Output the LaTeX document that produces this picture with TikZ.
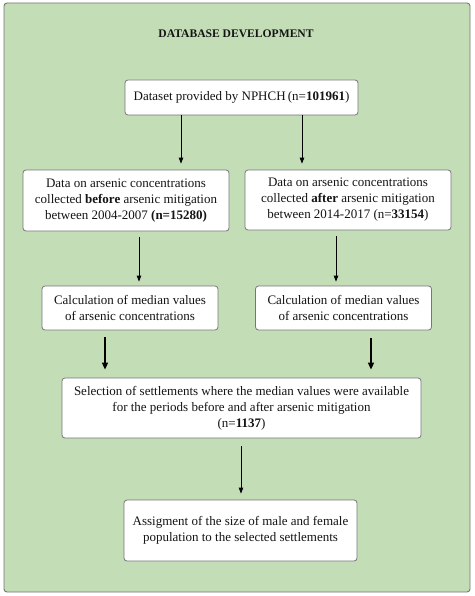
\documentclass[tikz,border=0pt]{standalone}
\usepackage{fontspec}
\setmainfont{Liberation Serif}
\usetikzlibrary{arrows.meta}
\definecolor{bggreen}{HTML}{C3DDB7}
\definecolor{boxgray}{HTML}{767676}
\definecolor{txt}{HTML}{141414}
\tikzset{
  box/.style={draw=boxgray, line width=0.8pt, fill=white, rounded corners=3pt, align=center,
    font=\fontsize{13}{16}\selectfont, text=txt, inner sep=2pt},
  arr/.style={draw=black, line width=0.9pt, -{Triangle[length=6pt,width=4.5pt]}},
  thickarr/.style={draw=black, line width=1.5pt, -{Triangle[length=7pt,width=6pt]}}
}
\begin{document}
\begin{tikzpicture}[x=1pt,y=-1pt]
\useasboundingbox (0,0) rectangle (474,596);
\fill[white] (0,0) rectangle (474,596);
\draw[draw=boxgray, line width=0.9pt, fill=bggreen, rounded corners=3pt] (4,3) rectangle (470,592);
\node[font=\fontsize{11.6}{13}\selectfont\bfseries, text=txt] (title) at (236,33.5) {DATABASE DEVELOPMENT};

\node[box, minimum width=233pt, minimum height=35pt] (b1) at (241.5,97.5)
  {Dataset provided by NPHCH\,(n=\textbf{101961})};
\node[box, minimum width=206pt, minimum height=61pt] (b2l) at (126,200.5)
  {Data on arsenic concentrations\\collected \textbf{before} arsenic mitigation\\between 2004-2007 \textbf{(n=15280)}};
\node[box, minimum width=206pt, minimum height=60pt] (b2r) at (348,200)
  {Data on arsenic concentrations\\collected \textbf{after} arsenic mitigation\\between 2014-2017 (n=\textbf{33154})};
\node[box, minimum width=176pt, minimum height=44pt] (b3l) at (130,308)
  {Calculation of median values\\of arsenic concentrations};
\node[box, minimum width=176pt, minimum height=44pt] (b3r) at (343.5,308)
  {Calculation of median values\\of arsenic concentrations};
\node[box, minimum width=359pt, minimum height=60pt] (b4) at (241.5,408)
  {Selection of settlements where the median values were available\\for the periods before and after arsenic mitigation\\(n=\textbf{1137})};
\node[box, minimum width=233pt, minimum height=61pt] (b5) at (240.5,530.5)
  {Assigment of the size of male and female\\population to the selected settlements};

\coordinate (x1) at (181,0);
\coordinate (x2) at (302,0);
\coordinate (x3) at (139,0);
\coordinate (x4) at (336,0);
\coordinate (x5) at (105,0);
\coordinate (x6) at (371,0);
\coordinate (x7) at (241,0);

\draw[arr, shorten >=6pt] (b1.south -| x1) -- (b2l.north -| x1);
\draw[arr, shorten >=6pt] (b1.south -| x2) -- (b2r.north -| x2);
\draw[arr, shorten <=6pt, shorten >=4pt] (b2l.south -| x3) -- (b3l.north -| x3);
\draw[arr, shorten <=6pt, shorten >=4pt] (b2r.south -| x4) -- (b3r.north -| x4);
\draw[thickarr, shorten <=7pt, shorten >=8pt] (b3l.south -| x5) -- (b4.north -| x5);
\draw[thickarr, shorten <=8pt, shorten >=8pt] (b3r.south -| x6) -- (b4.north -| x6);
\draw[arr, shorten <=8pt, shorten >=6pt] (b4.south -| x7) -- (b5.north -| x7);
\end{tikzpicture}
\end{document}
